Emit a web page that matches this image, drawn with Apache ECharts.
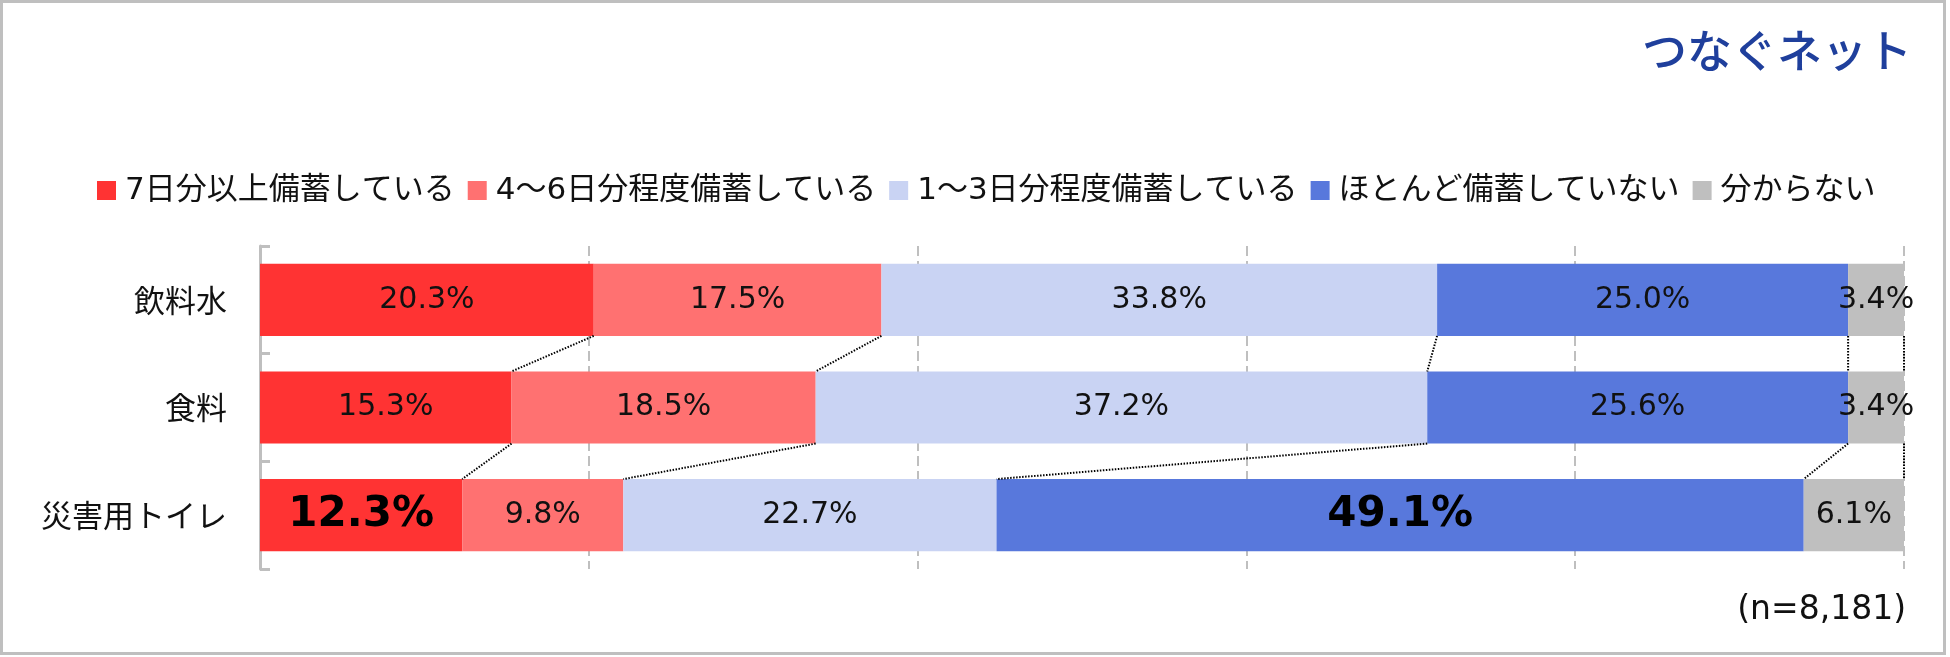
<!DOCTYPE html>
<html>
<head>
<meta charset="utf-8">
<script src="https://cdn.jsdelivr.net/npm/echarts@6/dist/echarts.min.js"></script>
<style>
	html, body { margin: 0; padding: 0; background: #fff; }
	#box { width: 1950px; height: 657px; }
</style>
</head>
<body>
<div id="box"></div>
<script>
var categories = ['飲料水', '食料', '災害用トイレ'];
var seriesNames = ['7日分以上備蓄している', '4～6日分程度備蓄している', '1～3日分程度備蓄している', 'ほとんど備蓄していない', '分からない'];
var over7days = [20.3, 15.3, 12.3];
var days4to6 = [17.5, 18.5, 9.8];
var days1to3 = [33.8, 37.2, 22.7];
var hardlyAny = [25.0, 25.6, 49.1];
var unknown = [3.4, 3.4, 6.1];
var sampleNote = '(n=8,181)';
var logoText = 'つなぐネット';

var colors = ['#ff3333', '#ff7171', '#c9d3f3', '#5878dc', '#bfbfbf'];
var latinFont = "'DejaVu Sans', 'Noto Sans CJK JP', sans-serif";
var jpFont = "'Noto Sans CJK JP', sans-serif";
var barRatio = 0.67;
// cells shown in big bold type: [series, row]
var boldCells = [[0, 2], [3, 2]];

var allValues = [over7days, days4to6, days1to3, hardlyAny, unknown];

function isBold(s, r) {
	for (var i = 0; i < boldCells.length; i++) {
		if (boldCells[i][0] == s && boldCells[i][1] == r) return true;
	}
	return false;
}

var series = allValues.map(function (vals, s) {
	return {
		name: seriesNames[s],
		type: 'bar',
		stack: 'total',
		barWidth: (barRatio * 100) + '%',
		itemStyle: { color: colors[s] },
		label: {
			show: true,
			position: 'inside',
			color: '#111',
			fontFamily: latinFont,
			fontSize: 30,
			formatter: function (p) { return p.value.toFixed(1) + '%'; }
		},
		data: vals.map(function (v, r) {
			if (isBold(s, r)) {
				return { value: v, label: { fontSize: 42, fontWeight: 'bold', color: '#000' } };
			}
			return v;
		})
	};
});

// dotted connectors between rows at each cumulative boundary
var connectorData = [];
for (var r = 0; r < categories.length - 1; r++) {
	var cTop = 0, cBot = 0;
	for (var k = 0; k < allValues.length; k++) {
		cTop += allValues[k][r];
		cBot += allValues[k][r + 1];
		connectorData.push([Math.min(cTop, 100), r, Math.min(cBot, 100)]);
	}
}

series.push({
	type: 'custom',
	silent: true,
	z: 5,
	data: connectorData,
	renderItem: function (params, api) {
		var p1 = api.coord([api.value(0), api.value(1)]);
		var p2 = api.coord([api.value(2), api.value(1) + 1]);
		var half = api.size([0, 1])[1] * barRatio / 2;
		return {
			type: 'line',
			shape: { x1: p1[0], y1: p1[1] + half, x2: p2[0], y2: p2[1] - half },
			style: { stroke: '#000', lineWidth: 2, lineDash: [1.5, 1.5] }
		};
	}
});

var myChart = echarts.init(document.getElementById('box'));
var option = {
	animation: false,
	backgroundColor: '#fff',
	grid: { left: 260, right: 46, top: 246, bottom: 88 },
	legend: {
		data: seriesNames,
		left: 92,
		top: 170,
		icon: 'rect',
		itemWidth: 19,
		itemHeight: 19,
		itemGap: 13,
		textStyle: { fontSize: 31, color: '#111', fontFamily: latinFont, padding: [0, 0, 0, 4] }
	},
	xAxis: {
		type: 'value',
		min: 0,
		max: 100,
		interval: 20,
		axisLabel: { show: false },
		axisLine: { show: false },
		axisTick: { show: false },
		splitLine: { lineStyle: { color: '#bfbfbf', width: 2, type: [10, 5] } }
	},
	yAxis: {
		type: 'category',
		inverse: true,
		data: categories,
		axisLine: { lineStyle: { color: '#bfbfbf', width: 3 } },
		axisTick: { show: true, inside: true, length: 10, lineStyle: { color: '#bfbfbf', width: 3 } },
		axisLabel: { margin: 33, fontSize: 31, color: '#111', fontFamily: jpFont }
	},
	graphic: [
		{
			type: 'rect',
			shape: { x: 1.5, y: 1.5, width: 1943, height: 652 },
			style: { fill: 'none', stroke: '#bfbfbf', lineWidth: 3 },
			silent: true
		},
		{
			type: 'text',
			right: 38,
			top: 28,
			style: { text: logoText, fontSize: 45, fontWeight: 500, fill: '#1f3f9c', fontFamily: jpFont }
		},
		{
			type: 'text',
			right: 44,
			top: 594,
			style: { text: sampleNote, fontSize: 33, fill: '#111', fontFamily: latinFont }
		}
	],
	series: series
};
myChart.clear();
myChart.setOption(option);
</script>
</body>
</html>
